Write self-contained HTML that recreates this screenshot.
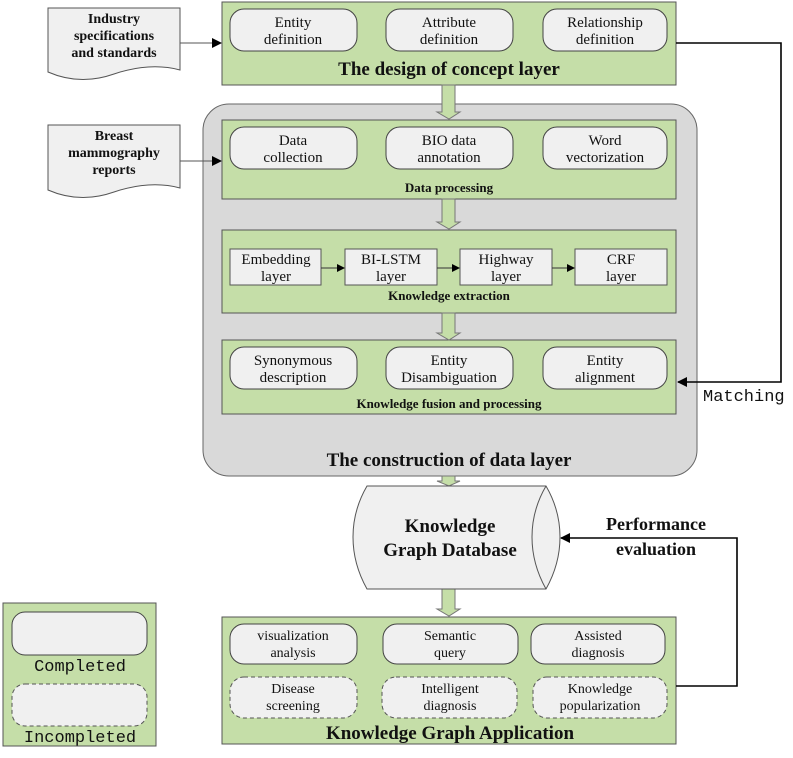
<!DOCTYPE html>
<html><head><meta charset="utf-8"><style>
html,body{margin:0;padding:0;background:#fff;}
svg{display:block;}
text{font-family:"Liberation Serif",serif;fill:#111;}
.b{font-weight:bold;}
.m{font-family:"Liberation Mono",monospace;}
</style></head><body>
<svg width="793" height="758" viewBox="0 0 793 758" xmlns="http://www.w3.org/2000/svg">
<defs>
<marker id="ah" markerWidth="10" markerHeight="10" refX="9" refY="5" orient="auto" markerUnits="userSpaceOnUse"><path d="M0,0 L10,5 L0,10 z" fill="#000"/></marker>
<marker id="as" markerWidth="8" markerHeight="8" refX="7" refY="4" orient="auto" markerUnits="userSpaceOnUse"><path d="M0,0 L8,4 L0,8 z" fill="#000"/></marker>
</defs>

<!-- documents -->
<path d="M48,8 H180 V70 Q150,62 114,74 Q80,86 48,72 Z" fill="#f0f0f0" stroke="#555"/>
<text class="b" x="114" y="23" font-size="14" text-anchor="middle">Industry</text>
<text class="b" x="114" y="40" font-size="14" text-anchor="middle">specifications</text>
<text class="b" x="114" y="57" font-size="14" text-anchor="middle">and standards</text>
<path d="M48,125 H180 V188 Q150,180 114,192 Q80,204 48,190 Z" fill="#f0f0f0" stroke="#555"/>
<text class="b" x="114" y="140" font-size="14" text-anchor="middle">Breast</text>
<text class="b" x="114" y="157" font-size="14" text-anchor="middle">mammography</text>
<text class="b" x="114" y="174" font-size="14" text-anchor="middle">reports</text>

<!-- concept layer -->
<rect x="222" y="2" width="454" height="83" fill="#c5dea8" stroke="#555"/>
<g fill="#f0f0f0" stroke="#444">
<rect x="230" y="9" width="127" height="42" rx="14"/>
<rect x="386" y="9" width="127" height="42" rx="14"/>
<rect x="543" y="9" width="124" height="42" rx="14"/>
</g>
<g font-size="15" text-anchor="middle">
<text x="293" y="27">Entity</text><text x="293" y="44">definition</text>
<text x="449" y="27">Attribute</text><text x="449" y="44">definition</text>
<text x="605" y="27">Relationship</text><text x="605" y="44">definition</text>
</g>
<text class="b" x="449" y="75" font-size="19" text-anchor="middle">The design of concept layer</text>

<!-- gray container -->
<rect x="203" y="104" width="494" height="372" rx="26" fill="#d9d9d9" stroke="#666"/>
<text class="b" x="449" y="466" font-size="19" text-anchor="middle">The construction of data layer</text>

<line x1="180" y1="43" x2="221" y2="43" stroke="#555" marker-end="url(#ah)"/>
<line x1="180" y1="161" x2="221" y2="161" stroke="#555" marker-end="url(#ah)"/>

<!-- data processing -->
<rect x="222" y="120" width="454" height="79" fill="#c5dea8" stroke="#555"/>
<g fill="#f0f0f0" stroke="#444">
<rect x="230" y="127" width="127" height="42" rx="14"/>
<rect x="386" y="127" width="127" height="42" rx="14"/>
<rect x="543" y="127" width="124" height="42" rx="14"/>
</g>
<g font-size="15" text-anchor="middle">
<text x="293" y="145">Data</text><text x="293" y="162">collection</text>
<text x="449" y="145">BIO data</text><text x="449" y="162">annotation</text>
<text x="605" y="145">Word</text><text x="605" y="162">vectorization</text>
</g>
<text class="b" x="449" y="192" font-size="13" text-anchor="middle">Data processing</text>

<!-- knowledge extraction -->
<rect x="222" y="230" width="454" height="83" fill="#c5dea8" stroke="#555"/>
<g fill="#f0f0f0" stroke="#555">
<rect x="230" y="249" width="91" height="36"/>
<rect x="345" y="249" width="92" height="36"/>
<rect x="460" y="249" width="92" height="36"/>
<rect x="575" y="249" width="92" height="36"/>
</g>
<g stroke="#333">
<line x1="321" y1="268" x2="344" y2="268" marker-end="url(#as)"/>
<line x1="437" y1="268" x2="459" y2="268" marker-end="url(#as)"/>
<line x1="552" y1="268" x2="574" y2="268" marker-end="url(#as)"/>
</g>
<g font-size="15" text-anchor="middle">
<text x="276" y="264">Embedding</text><text x="276" y="281">layer</text>
<text x="391" y="264">BI-LSTM</text><text x="391" y="281">layer</text>
<text x="506" y="264">Highway</text><text x="506" y="281">layer</text>
<text x="621" y="264">CRF</text><text x="621" y="281">layer</text>
</g>
<text class="b" x="449" y="300" font-size="13" text-anchor="middle">Knowledge extraction</text>

<!-- fusion -->
<rect x="222" y="340" width="454" height="74" fill="#c5dea8" stroke="#555"/>
<g fill="#f0f0f0" stroke="#444">
<rect x="230" y="347" width="127" height="42" rx="14"/>
<rect x="386" y="347" width="127" height="42" rx="14"/>
<rect x="543" y="347" width="124" height="42" rx="14"/>
</g>
<g font-size="15" text-anchor="middle">
<text x="293" y="365">Synonymous</text><text x="293" y="382">description</text>
<text x="449" y="365">Entity</text><text x="449" y="382">Disambiguation</text>
<text x="605" y="365">Entity</text><text x="605" y="382">alignment</text>
</g>
<text class="b" x="449" y="408" font-size="13" text-anchor="middle">Knowledge fusion and processing</text>

<!-- block arrows -->
<g fill="#c5dea8" stroke="#777">
<path d="M442,85 H455 V112 H460 L449,119 L437,112 H442 Z"/>
<path d="M442,199 H455 V222 H460 L449,229 L437,222 H442 Z"/>
<path d="M442,313 H455 V333 H460 L449,340 L437,333 H442 Z"/>
<path d="M442,476 H455 V481 H460 L449,486 L437,481 H442 Z"/>
<path d="M442,589 H455 V609 H460 L449,616 L437,609 H442 Z"/>
</g>

<!-- cylinder -->
<path d="M367,486 H546 Q560,510 560,537 Q560,564 546,589 H367 Q353,564 353,537 Q353,510 367,486 Z" fill="#f0f0f0" stroke="#555"/>
<path d="M546,486 Q532,510 532,537 Q532,564 546,589" fill="none" stroke="#555"/>
<text class="b" x="450" y="532" font-size="19" text-anchor="middle">Knowledge</text>
<text class="b" x="450" y="556" font-size="19" text-anchor="middle">Graph Database</text>

<!-- application -->
<rect x="222" y="617" width="454" height="127" fill="#c5dea8" stroke="#555"/>
<g fill="#f0f0f0" stroke="#444">
<rect x="230" y="624" width="127" height="40" rx="14"/>
<rect x="383" y="624" width="135" height="40" rx="14"/>
<rect x="531" y="624" width="134" height="40" rx="14"/>
</g>
<g fill="#f0f0f0" stroke="#555" stroke-dasharray="4,3">
<rect x="230" y="677" width="127" height="41" rx="14"/>
<rect x="382" y="677" width="135" height="41" rx="14"/>
<rect x="533" y="677" width="134" height="41" rx="14"/>
</g>
<g font-size="14" text-anchor="middle">
<text x="293" y="640">visualization</text><text x="293" y="657">analysis</text>
<text x="450" y="640">Semantic</text><text x="450" y="657">query</text>
<text x="598" y="640">Assisted</text><text x="598" y="657">diagnosis</text>
<text x="293" y="693">Disease</text><text x="293" y="710">screening</text>
<text x="450" y="693">Intelligent</text><text x="450" y="710">diagnosis</text>
<text x="600" y="693">Knowledge</text><text x="600" y="710">popularization</text>
</g>
<text class="b" x="450" y="739" font-size="19" text-anchor="middle">Knowledge Graph Application</text>

<!-- feedback lines -->
<polyline points="676,43 781,43 781,382 678,382" fill="none" stroke="#000" stroke-width="1.6" marker-end="url(#ah)"/>
<text class="m" x="703" y="401" font-size="17">Matching</text>
<polyline points="676,686 737,686 737,538 561,538" fill="none" stroke="#000" stroke-width="1.6" marker-end="url(#ah)"/>
<text class="b" x="656" y="530" font-size="18" text-anchor="middle">Performance</text>
<text class="b" x="656" y="555" font-size="18" text-anchor="middle">evaluation</text>

<!-- legend -->
<rect x="3" y="603" width="153" height="143" fill="#c5dea8" stroke="#555"/>
<rect x="12" y="612" width="135" height="43" rx="13" fill="#f0f0f0" stroke="#444"/>
<text class="m" x="80" y="671" font-size="17" text-anchor="middle">Completed</text>
<rect x="12" y="684" width="135" height="42" rx="13" fill="#f0f0f0" stroke="#555" stroke-dasharray="4,3"/>
<text class="m" x="80" y="742" font-size="17" text-anchor="middle">Incompleted</text>
</svg>
</body></html>
